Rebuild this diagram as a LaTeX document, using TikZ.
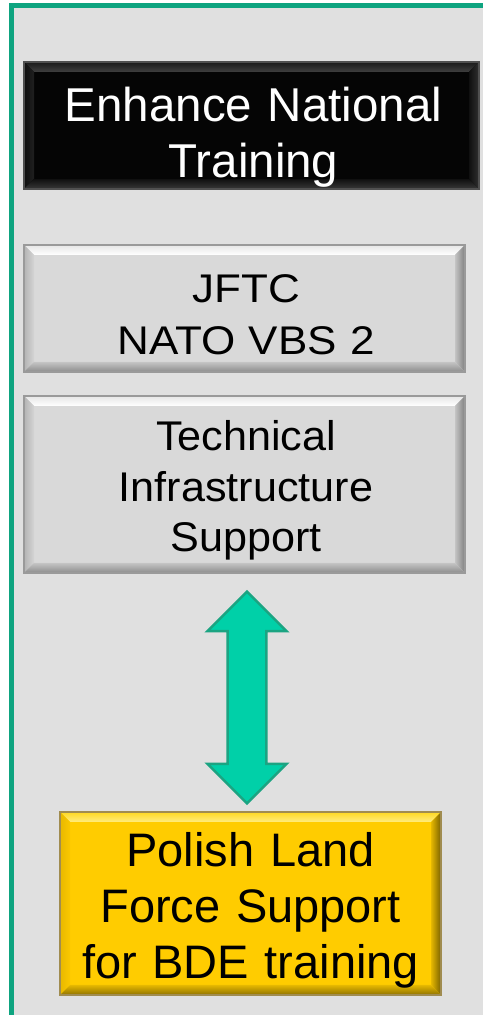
\documentclass[tikz,border=0pt]{standalone}
\usepackage{fontspec}
\setmainfont{Liberation Sans}
\newfontfamily\wideA[FakeStretch=1.1]{Liberation Sans}
\newfontfamily\wideB[FakeStretch=1.04]{Liberation Sans}
\usetikzlibrary{calc}
\definecolor{bggray}{HTML}{E0E0E0}
\definecolor{framegreen}{HTML}{0EA480}
% gray bevel box
\definecolor{gline}{HTML}{9A9A9A}
\definecolor{gfill}{HTML}{D9D9D9}
\definecolor{gtopo}{HTML}{E6E6E6}
\definecolor{gtopi}{HTML}{FFFFFF}
\definecolor{glefto}{HTML}{B4B4B4}
\definecolor{glefti}{HTML}{D4D4D4}
\definecolor{gdarki}{HTML}{C4C4C4}
\definecolor{grighto}{HTML}{808080}
\definecolor{gboto}{HTML}{8C8C8C}
% yellow bevel box
\definecolor{yline}{HTML}{A08C50}
\definecolor{yfill}{HTML}{FFCC00}
\definecolor{ytopo}{HTML}{FFD820}
\definecolor{ytopi}{HTML}{FFEC80}
\definecolor{ylefto}{HTML}{E8B800}
\definecolor{ylefti}{HTML}{FAC800}
\definecolor{ydarki}{HTML}{E6B800}
\definecolor{yrighto}{HTML}{7A6200}
\definecolor{yboto}{HTML}{8F7200}
% black bevel box
\definecolor{kline}{HTML}{505050}
\definecolor{kfill}{HTML}{050505}
\definecolor{ktopo}{HTML}{1A1A1A}
\definecolor{ktopi}{HTML}{404040}
\definecolor{klefto}{HTML}{101010}
\definecolor{klefti}{HTML}{202020}
\definecolor{kdarki}{HTML}{101010}
\definecolor{krighto}{HTML}{303030}
\definecolor{kboto}{HTML}{383838}
\definecolor{arrfill}{HTML}{00D0A8}
\definecolor{arrline}{HTML}{1BA482}
\tikzset{
  bevelbox/.style n args={9}{draw=#1, line width=1.2pt, fill=#2, inner sep=0pt,
    path picture={
      \coordinate (bnw) at (path picture bounding box.north west);
      \coordinate (bse) at (path picture bounding box.south east);
      \coordinate (bne) at (bse|-bnw);
      \coordinate (bsw) at (bnw|-bse);
      \shade[top color=#3, bottom color=#4] (bnw) -- (bne) -- ([shift={(-10,-10)}]bne) -- ([shift={(10,-10)}]bnw) -- cycle;
      \shade[left color=#5, right color=#6] (bnw) -- ([shift={(10,-10)}]bnw) -- ([shift={(10,10)}]bsw) -- (bsw) -- cycle;
      \shade[left color=#7, right color=#8] (bne) -- (bse) -- ([shift={(-10,10)}]bse) -- ([shift={(-10,-10)}]bne) -- cycle;
      \shade[top color=#7, bottom color=#9] (bsw) -- ([shift={(10,10)}]bsw) -- ([shift={(-10,10)}]bse) -- (bse) -- cycle;
    }},
  gbox/.style={bevelbox={gline}{gfill}{gtopo}{gtopi}{glefto}{glefti}{gdarki}{grighto}{gboto}},
  ybox/.style={bevelbox={yline}{yfill}{ytopo}{ytopi}{ylefto}{ylefti}{ydarki}{yrighto}{yboto}},
  kbox/.style={bevelbox={kline}{kfill}{ktopo}{ktopi}{klefto}{klefti}{kdarki}{krighto}{kboto}},
  txt/.style={align=center, text width=440pt, anchor=base, inner sep=0pt},
  arrowsty/.style={fill=arrfill, draw=arrline, line width=2.5pt},
}
\begin{document}
\begin{tikzpicture}[x=1pt,y=1pt]
\useasboundingbox (0,0) rectangle (483,1015);
\fill[white] (0,0) rectangle (483,1015);
\fill[bggray] (11.5,0) rectangle (483,1009.5);
\draw[framegreen, line width=5pt] (11.5,0) -- (11.5,1009.5) -- (483,1009.5);

\node[kbox, minimum width=455pt, minimum height=127pt] (ent) at (251.5,889.5) {};
\node[gbox, minimum width=441pt, minimum height=127pt] (jftc) at (244.5,706.5) {};
\node[gbox, minimum width=441pt, minimum height=177pt] (tis) at (244.5,530.5) {};
\node[ybox, minimum width=381pt, minimum height=183pt] (pol) at (250.5,111.5) {};

\node[txt, text=white, font=\fontsize{47.5}{56}\selectfont] (entT) at (253.5,893) {Enhance National\\Training};
\node[txt, font=\wideA\fontsize{40}{52}\selectfont] (jftcT) at (246,712) {JFTC\\NATO VBS 2};
\node[txt, font=\wideB\fontsize{41.5}{50.5}\selectfont] (tisT) at (246,564) {Technical\\Infrastructure\\Support};
\node[txt, font=\fontsize{47}{56}\selectfont] (polT) at (250.5,148) {Polish Land\\Force Support\\for BDE training};

\coordinate (at) at ([xshift=2.5pt,yshift=-18pt]tis.south);
\coordinate (ab) at ([xshift=-3.5pt,yshift=8pt]pol.north);
\draw[arrowsty] (at) -- ($(at)+(-39.5,-39.5)$) -- ($(at)+(-19.3,-39.5)$) -- ($(ab)+(-19.3,39.5)$) -- ($(ab)+(-39.5,39.5)$) -- (ab) -- ($(ab)+(39.5,39.5)$) -- ($(ab)+(19.3,39.5)$) -- ($(at)+(19.3,-39.5)$) -- ($(at)+(39.5,-39.5)$) -- cycle;
\end{tikzpicture}
\end{document}
